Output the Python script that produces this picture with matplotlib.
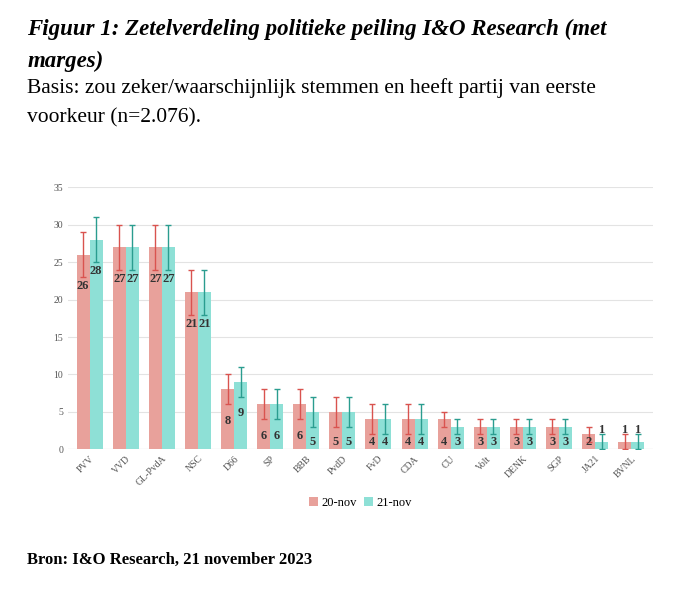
import matplotlib.pyplot as plt
import numpy as np

parties = ["PVV", "VVD", "GL-PvdA", "NSC", "D66", "SP", "BBB", "PvdD", "FvD", "CDA",
           "CU", "Volt", "DENK", "SGP", "JA21", "BVNL"]
nov20 = [26, 27, 27, 21, 8, 6, 6, 5, 4, 4, 4, 3, 3, 3, 2, 1]
nov21 = [28, 27, 27, 21, 9, 6, 5, 5, 4, 4, 3, 3, 3, 3, 1, 1]
nov20_lo = [23, 24, 24, 18, 6, 4, 4, 3, 2, 2, 3, 2, 2, 2, 1, 0]
nov20_hi = [29, 30, 30, 24, 10, 8, 8, 7, 6, 6, 5, 4, 4, 4, 3, 2]
nov21_lo = [25, 24, 24, 18, 7, 4, 3, 3, 2, 2, 2, 2, 2, 2, 0, 0]
nov21_hi = [31, 30, 30, 24, 11, 8, 7, 7, 6, 6, 4, 4, 4, 4, 2, 2]

c20, c20e = "#e8a19b", "#d9534f"
c21, c21e = "#8ee0d6", "#2a9d8f"

fig = plt.figure(figsize=(6.8, 5.95), dpi=100)
serif = "Liberation Serif"
fig.text(0.04, 0.968, "Figuur 1: Zetelverdeling politieke peiling I&O Research (met",
         family=serif, weight="bold", style="italic", fontsize=16.5, va="top")
fig.text(0.04, 0.915, "marges)", family=serif, weight="bold", style="italic", fontsize=16.5, va="top")
fig.text(0.04, 0.868, "Basis: zou zeker/waarschijnlijk stemmen en heeft partij van eerste",
         family=serif, fontsize=15.5, va="top")
fig.text(0.04, 0.818, "voorkeur (n=2.076).", family=serif, fontsize=15.5, va="top")
fig.text(0.04, 0.045, "Bron: I&O Research, 21 november 2023", family=serif, weight="bold",
         fontsize=12, va="bottom")

ax = fig.add_axes([0.1, 0.245, 0.86, 0.44])
x = np.arange(len(parties))
w = 0.36
ax.bar(x - w / 2, nov20, w, color=c20, label="20-nov", zorder=2)
ax.bar(x + w / 2, nov21, w, color=c21, label="21-nov", zorder=2)
n20, n21 = np.array(nov20), np.array(nov21)
ax.errorbar(x - w / 2, n20, yerr=[n20 - nov20_lo, np.array(nov20_hi) - n20], fmt="none",
            ecolor=c20e, elinewidth=1, capsize=2.5, zorder=3)
ax.errorbar(x + w / 2, n21, yerr=[n21 - nov21_lo, np.array(nov21_hi) - n21], fmt="none",
            ecolor=c21e, elinewidth=1, capsize=2.5, zorder=3)

for xs, vals in ((x - w / 2, nov20), (x + w / 2, nov21)):
    for xi, v in zip(xs, vals):
        y = 2.6 if v == 1 else max(v - 4.2, 0.9) if v > 4 else 0.9
        ax.text(xi, y, str(v), ha="center", va="center", fontsize=9, weight="bold",
                color="#333333", family=serif, zorder=4)

ax.set_ylim(0, 35)
ax.set_yticks(range(0, 36, 5))
ax.set_xlim(-0.6, len(parties) - 0.4)
ax.set_xticks(x)
ax.set_xticklabels(parties, rotation=45, ha="right", rotation_mode="anchor", family=serif)
ax.tick_params(labelsize=7, colors="#555555", length=0)
for lab in ax.get_yticklabels():
    lab.set_family(serif)
ax.grid(axis="y", color="#e3e3e3", lw=0.8, zorder=0)
for s in ax.spines.values():
    s.set_visible(False)
ax.axhline(0, color="#d0d0d0", lw=0.8, zorder=1)
ax.legend(loc="upper center", bbox_to_anchor=(0.5, -0.14), ncol=2, frameon=False,
          handlelength=0.7, handletextpad=0.3, columnspacing=0.6,
          prop={"family": serif, "size": 9})

fig.savefig("out.png", dpi=100)
